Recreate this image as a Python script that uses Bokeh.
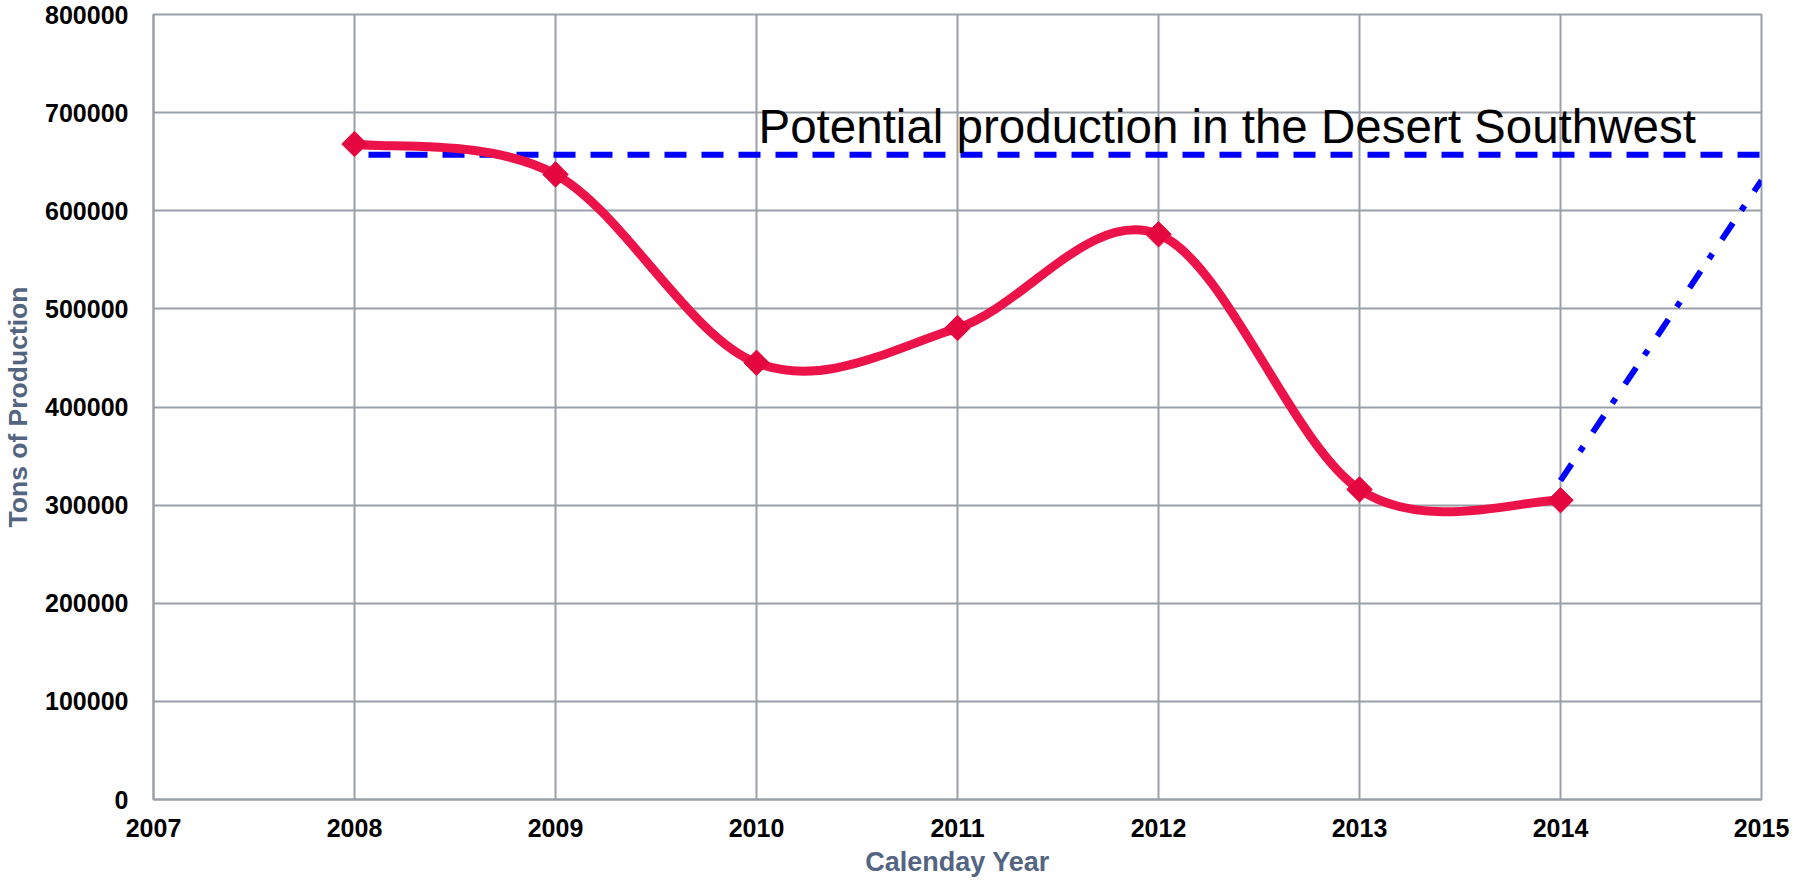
import math
from bokeh.plotting import figure
from bokeh.models import ColumnDataSource, FixedTicker, Label, Range1d
from bokeh.embed import file_html
from bokeh.resources import INLINE

# ---------------- data ----------------
years = [2008, 2009, 2010, 2011, 2012, 2013, 2014]
production = [668000, 637000, 445000, 480500, 576000, 316000, 305000]

potential_x = [2008, 2015]
potential_y = [657000, 657000]

projection_x = [2014, 2015]
projection_y = [325000, 631000]

x_ticks = [2007, 2008, 2009, 2010, 2011, 2012, 2013, 2014, 2015]
y_ticks = [0, 100000, 200000, 300000, 400000, 500000, 600000, 700000, 800000]
y_tick_labels = [str(v) for v in y_ticks]

title_text = "Potential production in the Desert Southwest"
x_label = "Calenday Year"
y_label = "Tons of Production"

# ---------------- figure ----------------
FONT = "Liberation Sans"
GRID = "#9A9FA8"
LABEL_COL = "#536580"

p = figure(width=1796, height=888, output_backend="svg", toolbar_location=None,
           x_range=Range1d(2007, 2015), y_range=Range1d(0, 800000),
           min_border_left=153, min_border_right=35, min_border_top=14, min_border_bottom=89)
p.background_fill_color = "white"
p.border_fill_color = "white"
p.outline_line_color = GRID
p.outline_line_width = 2

p.xaxis.ticker = FixedTicker(ticks=x_ticks)
p.yaxis.ticker = FixedTicker(ticks=y_ticks)
p.yaxis.major_label_overrides = {v: s for v, s in zip(y_ticks, y_tick_labels)}

for ax in (p.xaxis[0], p.yaxis[0]):
    ax.axis_line_color = GRID
    ax.axis_line_width = 2
    ax.major_tick_line_color = None
    ax.minor_tick_line_color = None
    ax.major_tick_out = 0
    ax.major_tick_in = 0
    ax.major_label_text_font = FONT
    ax.major_label_text_font_style = "bold"
    ax.major_label_text_font_size = "25px"
    ax.major_label_text_color = "black"
    ax.axis_label_text_font = FONT
    ax.axis_label_text_font_style = "bold"
    ax.axis_label_text_color = LABEL_COL

p.xaxis.axis_label_text_font_size = "27px"
p.yaxis.axis_label_text_font_size = "26.5px"
p.xaxis.axis_label = x_label
p.yaxis.axis_label = y_label
p.yaxis.major_label_standoff = 25
p.xaxis.major_label_standoff = 19
p.yaxis.axis_label_standoff = 9
p.xaxis.axis_label_standoff = 7

p.xgrid.grid_line_color = GRID
p.ygrid.grid_line_color = GRID
p.xgrid.grid_line_width = 2
p.ygrid.grid_line_width = 2

# ---------------- blue reference lines ----------------
p.line(potential_x, potential_y, line_color="#0000FF", line_width=6,
       line_dash="22 15", line_dash_offset=23, line_cap="butt")
p.line(projection_x, projection_y, line_color="#0000FF", line_width=6,
       line_dash="20 15 6 17", line_cap="butt")

# ---------------- smoothed red curve (Catmull-Rom as cubic Beziers) ----------------
n = len(years)
seg = dict(x0=[], y0=[], x1=[], y1=[], cx0=[], cy0=[], cx1=[], cy1=[])
for i in range(n - 1):
    a = i - 1 if i > 0 else i
    d = i + 2 if i + 2 < n else i + 1
    seg["x0"].append(years[i]); seg["y0"].append(production[i])
    seg["x1"].append(years[i + 1]); seg["y1"].append(production[i + 1])
    seg["cx0"].append(years[i] + (years[i + 1] - years[a]) / 6.0)
    seg["cy0"].append(production[i] + (production[i + 1] - production[a]) / 6.0)
    seg["cx1"].append(years[i + 1] - (years[d] - years[i]) / 6.0)
    seg["cy1"].append(production[i + 1] - (production[d] - production[i]) / 6.0)
p.bezier(x0="x0", y0="y0", x1="x1", y1="y1", cx0="cx0", cy0="cy0", cx1="cx1", cy1="cy1",
         source=ColumnDataSource(seg), line_color="#EC134A", line_width=9, line_cap="round")

# markers (diamonds)
p.scatter(years, production, marker="square", size=18, angle=math.pi / 4,
          fill_color="#E4073F", line_color="#E4073F", line_width=1)

# ---------------- annotation ----------------
p.add_layout(Label(x=2010.01, y=686000, text=title_text, text_font=FONT,
                   text_font_size="47.5px", text_color="black", text_baseline="alphabetic",
                   text_align="left"))

open("out.html", "w").write(file_html(p, INLINE))
